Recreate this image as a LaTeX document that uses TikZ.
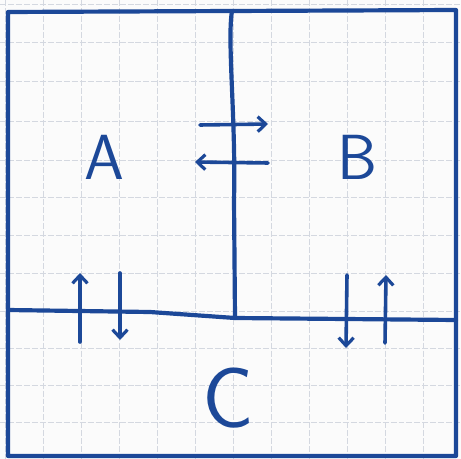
\documentclass[tikz,border=0pt]{standalone}
\usepackage{fontspec}
\setmainfont{Open Sans}
\usetikzlibrary{arrows.meta}
\definecolor{ink}{RGB}{28,72,152}
\definecolor{gridc}{RGB}{212,216,224}
\tikzset{
  wall/.style={draw=ink,line width=4.2pt,line cap=round,line join=round},
  flow/.style={draw=ink,line width=3.6pt,line cap=round,-{Straight Barb[length=8pt,width=15pt,line width=3.2pt]}},
  lab/.style={text=ink,inner sep=0pt,font=\fontsize{64}{64}\selectfont\sffamily},
}
\begin{document}
\begin{tikzpicture}[x=1bp,y=-1bp]
\useasboundingbox (0,0) rectangle (461,459);
\fill[white!97!gray] (0,0) rectangle (461,459);
% grid paper
\foreach \gx in {5,43,81,119,157,195,233,271,309,347,385,423} {
  \draw[gridc,line width=1pt,dash pattern=on 6pt off 2pt] (\gx,0) -- (\gx,459);
}
\foreach \gy in {5,43,82,122,160,197,235,273,311,348,385,422} {
  \draw[gridc,line width=1pt,dash pattern=on 6pt off 2pt] (0,\gy) -- (461,\gy);
}
% walls
\coordinate (tl) at (8,12);
\coordinate (tr) at (456,10);
\coordinate (br) at (456,456);
\coordinate (bl) at (8,456);
\coordinate (ml) at (8,310);
\coordinate (mm) at (235,318);
\coordinate (mr) at (456,320);
\coordinate (mt) at (232,11);
\draw[wall] (tl) -- (tr) -- (br) -- (bl) -- cycle;
\draw[wall] (ml) -- (150,312) -- (mm) -- (mr);
\draw[wall] (mt) .. controls (227,40) and (236,120) .. (234,200) -- (mm);
% labels
\node[lab] (A) at (104,157) {A};
\node[lab] (B) at (357,157) {B};
\node[lab,font=\fontsize{86}{86}\selectfont\sffamily] (C) at (228,398) {C};
% arrows
\coordinate (ab1) at (200,125);
\coordinate (ab2) at (268,124);
\coordinate (ba1) at (268,163);
\coordinate (ba2) at (195,162);
\draw[flow] (ab1) -- (ab2);
\draw[flow] (ba1) -- (ba2);
\coordinate (ca1) at (80,342);
\coordinate (ca2) at (80,273);
\coordinate (ac1) at (120,273);
\coordinate (ac2) at (120,340);
\draw[flow] (ca1) -- (ca2);
\draw[flow] (ac1) -- (ac2);
\coordinate (bc1) at (347,275);
\coordinate (bc2) at (346,348);
\coordinate (cb1) at (385,343);
\coordinate (cb2) at (386,275);
\draw[flow] (bc1) -- (bc2);
\draw[flow] (cb1) -- (cb2);
\end{tikzpicture}
\end{document}
